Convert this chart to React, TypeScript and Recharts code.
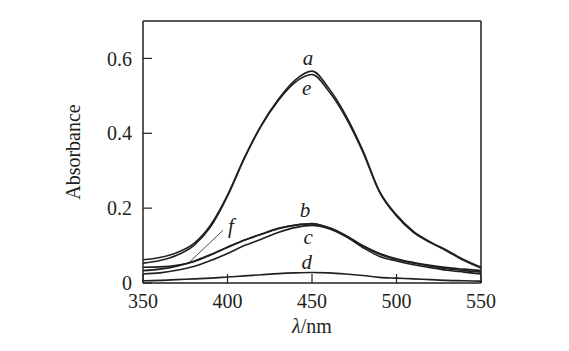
import React from "react";
import {
  LineChart,
  Line,
  XAxis,
  YAxis,
  ReferenceLine,
  ReferenceDot,
} from "recharts";

const wavelengths = [350, 360, 370, 380, 390, 400, 410, 420, 430, 440, 450, 460, 470, 480, 490, 500, 510, 520, 530, 540, 550];
const seriesA = [0.062, 0.068, 0.081, 0.105, 0.155, 0.235, 0.335, 0.422, 0.49, 0.542, 0.566, 0.52, 0.448, 0.355, 0.245, 0.182, 0.138, 0.11, 0.087, 0.062, 0.042];
const seriesE = [0.053, 0.06, 0.074, 0.1, 0.15, 0.232, 0.333, 0.42, 0.487, 0.536, 0.557, 0.512, 0.442, 0.351, 0.242, 0.179, 0.135, 0.108, 0.085, 0.06, 0.04];
const seriesB = [0.033, 0.037, 0.045, 0.058, 0.076, 0.096, 0.115, 0.131, 0.146, 0.155, 0.159, 0.148, 0.127, 0.1, 0.079, 0.065, 0.055, 0.047, 0.041, 0.037, 0.033];
const seriesC = [0.024, 0.027, 0.034, 0.044, 0.06, 0.079, 0.1, 0.117, 0.135, 0.148, 0.154, 0.145, 0.124, 0.095, 0.071, 0.059, 0.049, 0.041, 0.034, 0.029, 0.024];
const seriesF = [0.042, 0.043, 0.047, 0.057, 0.075, 0.095, 0.114, 0.13, 0.145, 0.154, 0.158, 0.147, 0.126, 0.099, 0.077, 0.063, 0.053, 0.045, 0.038, 0.033, 0.029];
const seriesD = [0.006, 0.007, 0.009, 0.011, 0.013, 0.016, 0.019, 0.022, 0.025, 0.027, 0.028, 0.027, 0.024, 0.02, 0.015, 0.013, 0.011, 0.009, 0.007, 0.006, 0.005];

const xTicks = [350, 400, 450, 500, 550];
const yTicks = [0, 0.2, 0.4, 0.6];

const curveLabels = [
  { text: "a", x: 447.6, y: 0.602 },
  { text: "e", x: 446.9, y: 0.52 },
  { text: "b", x: 445.9, y: 0.195 },
  { text: "c", x: 447.8, y: 0.123 },
  { text: "d", x: 446.9, y: 0.056 },
  { text: "f", x: 402, y: 0.152 },
];
const fPointer = [
  { x: 397.4, y: 0.141 },
  { x: 376.6, y: 0.052 },
];

const data = wavelengths.map((w, i) => ({
  w,
  a: seriesA[i],
  e: seriesE[i],
  b: seriesB[i],
  c: seriesC[i],
  f: seriesF[i],
  d: seriesD[i],
}));

const INK = "#231f20";
const FONT = "'Liberation Serif', 'Times New Roman', serif";

const XLabel = (props: any) => {
  const vb = props.viewBox || {};
  return (
    <text
      x={vb.x + vb.width / 2}
      y={vb.y + 50}
      textAnchor="middle"
      fontFamily={FONT}
      fontSize={20}
      fill={INK}
    >
      <tspan fontStyle="italic">λ</tspan>
      <tspan>/nm</tspan>
    </text>
  );
};

const YLabel = (props: any) => {
  const vb = props.viewBox || {};
  const x = vb.x + vb.width - 63;
  const y = vb.y + vb.height / 2;
  return (
    <text
      x={x}
      y={y}
      transform={`rotate(-90, ${x}, ${y})`}
      textAnchor="middle"
      fontFamily={FONT}
      fontSize={20}
      fill={INK}
    >
      Absorbance
    </text>
  );
};

const seriesKeys = ["a", "e", "b", "c", "f", "d"];

export default function App() {
  return (
    <div style={{ position: "absolute", left: 0, top: 0, background: "#fff" }}>
      <LineChart
        width={569}
        height={351}
        data={data}
        margin={{ top: 21, right: 88, bottom: 28, left: 83 }}
      >
        <XAxis
          dataKey="w"
          type="number"
          domain={[350, 550]}
          ticks={xTicks}
          height={40}
          tickSize={-9}
          tickMargin={20}
          stroke={INK}
          strokeWidth={1.5}
          tick={{ fill: INK, fontFamily: FONT, fontSize: 20 }}
          tickLine={{ stroke: INK, strokeWidth: 1.2 }}
          label={<XLabel />}
        />
        <YAxis
          type="number"
          domain={[0, 0.7]}
          ticks={yTicks}
          width={60}
          tickSize={-9}
          tickMargin={20}
          stroke={INK}
          strokeWidth={1.5}
          tickFormatter={(v: number) => (v === 0 ? "0" : v.toFixed(1))}
          tick={{ fill: INK, fontFamily: FONT, fontSize: 20 }}
          tickLine={{ stroke: INK, strokeWidth: 1.2 }}
          label={<YLabel />}
        />
        <ReferenceLine y={0.7} stroke={INK} strokeWidth={1.5} />
        <ReferenceLine x={550} stroke={INK} strokeWidth={1.5} />
        {seriesKeys.map((k) => (
          <Line
            key={k}
            dataKey={k}
            type="monotone"
            stroke={INK}
            strokeWidth={1.6}
            dot={false}
            isAnimationActive={false}
          />
        ))}
        <ReferenceLine segment={fPointer} stroke={INK} strokeWidth={0.8} />
        {curveLabels.map((l) => (
          <ReferenceDot
            key={l.text}
            x={l.x}
            y={l.y}
            r={0}
            shape={(p: any) => (
              <text
                x={p.cx}
                y={p.cy}
                textAnchor="middle"
                dominantBaseline="central"
                fontFamily={FONT}
                fontStyle="italic"
                fontSize={21}
                fill={INK}
              >
                {l.text}
              </text>
            )}
          />
        ))}
      </LineChart>
    </div>
  );
}
